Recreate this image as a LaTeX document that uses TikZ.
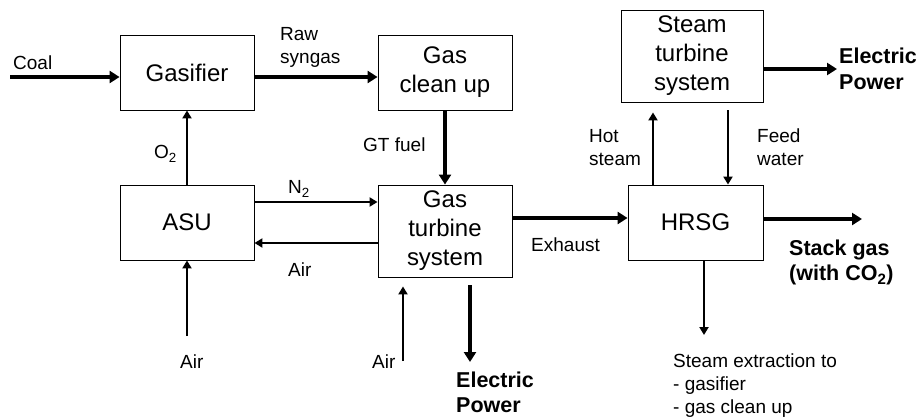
\documentclass[tikz,border=0pt]{standalone}
\usepackage{fontspec}
\setmainfont{Liberation Sans}
\usetikzlibrary{arrows.meta}

\newcommand{\unitfont}{\fontsize{24}{29}\selectfont}
\newcommand{\flowfont}{\fontsize{19}{23}\selectfont}
\newcommand{\powerfont}{\fontsize{21.5}{25.5}\selectfont\bfseries}

\tikzset{
  unit/.style={draw, line width=0.9pt, minimum width=134pt, minimum height=75pt,
    inner sep=0pt, align=center, font=\unitfont},
  flow/.style={line width=2pt, -{Triangle[length=8pt,width=9pt]}},
  mainflow/.style={line width=4pt, -{Triangle[length=10pt,width=12pt]}},
  flowlbl/.style={inner sep=0pt, anchor=west, align=left, font=\flowfont},
  powerlbl/.style={inner sep=0pt, anchor=west, align=left, font=\powerfont}
}

\begin{document}
\begin{tikzpicture}[x=1pt, y=-1pt]
  \useasboundingbox (0,0) rectangle (919,420);

  % units
  \node[unit] (gasifier) at (187,72.5) {Gasifier};
  \node[unit] (cleanup) at (445,72.5) {Gas\\clean up};
  \node[unit] (asu) at (187,222.5) {ASU};
  \node[unit, minimum height=92pt] (gt) at (445,231) {Gas\\turbine\\system};
  \node[unit, minimum width=135pt] (hrsg) at (695.5,222.5) {HRSG};
  \node[unit, minimum width=142pt, minimum height=92pt] (st) at (692,56)
    {Steam\\turbine\\system};

  % free ends of the streams
  \coordinate (coal) at (10,77);
  \coordinate (n2) at (0,202);
  \coordinate (airback) at (0,243);
  \coordinate (exhaust) at (0,218);
  \coordinate (asuair) at (187,336);
  \coordinate (gtair) at (403,361);
  \coordinate (gtpower) at (470,362);
  \coordinate (hotsteam) at (653,0);
  \coordinate (feedwater) at (728,0);
  \coordinate (stpower) at (837,69);
  \coordinate (stack) at (862,219);
  \coordinate (extraction) at (704,335);

  % gas side
  \draw[mainflow] (coal) -- (coal -| gasifier.west);
  \draw[mainflow] (gasifier.east |- coal) -- (cleanup.west |- coal);
  \draw[flow] (asu) -- (gasifier);
  \draw[mainflow] (cleanup) -- (gt);
  \draw[flow] (asu.east |- n2) -- (gt.west |- n2);
  \draw[flow] (gt.west |- airback) -- (asu.east |- airback);
  \draw[flow] (asuair) -- (asu.south);
  \draw[flow] (gtair) -- ([yshift=-9pt]gt.south -| gtair);
  \draw[mainflow] ([yshift=-8pt]gt.south -| gtpower) -- (gtpower);

  % steam side
  \draw[mainflow] (gt.east |- exhaust) -- (hrsg.west |- exhaust);
  \draw[flow] (hrsg.north -| hotsteam) -- ([yshift=-10pt]st.south -| hotsteam);
  \draw[flow] ([yshift=-8pt]st.south -| feedwater) -- (hrsg.north -| feedwater);
  \draw[mainflow] (st.east |- stpower) -- (stpower);
  \draw[mainflow] (hrsg.east |- stack) -- (stack);
  \draw[flow] (hrsg.south -| extraction) -- (extraction);

  % stream labels
  \node[flowlbl] (coallbl) at (13,62.5) {Coal};
  \node[flowlbl] (syngaslbl) at (280,47) {Raw\\syngas};
  \node[flowlbl] (o2lbl) at (154,154) {O\textsubscript{2}};
  \node[flowlbl] (fuellbl) at (363,145) {GT fuel};
  \node[flowlbl] (n2lbl) at (288,189) {N\textsubscript{2}};
  \node[flowlbl] (airbacklbl) at (288,270) {Air};
  \node[flowlbl] (asuairlbl) at (180,362) {Air};
  \node[flowlbl] (gtairlbl) at (372,362) {Air};
  \node[flowlbl] (exhaustlbl) at (531,245) {Exhaust};
  \node[flowlbl] (hotlbl) at (589,147.5) {Hot\\steam};
  \node[flowlbl] (feedlbl) at (757,147.5) {Feed\\water};
  \node[flowlbl] (extractionlbl) at (673,386)
    {Steam extraction to\\- gasifier\\- gas clean up};

  % products
  \node[powerlbl] (gtpowerlbl) at (456,392.5) {Electric\\Power};
  \node[powerlbl] (stpowerlbl) at (839,69) {Electric\\Power};
  \node[powerlbl] (stacklbl) at (789,262.5) {Stack gas\\(with CO\textsubscript{2})};
\end{tikzpicture}
\end{document}
